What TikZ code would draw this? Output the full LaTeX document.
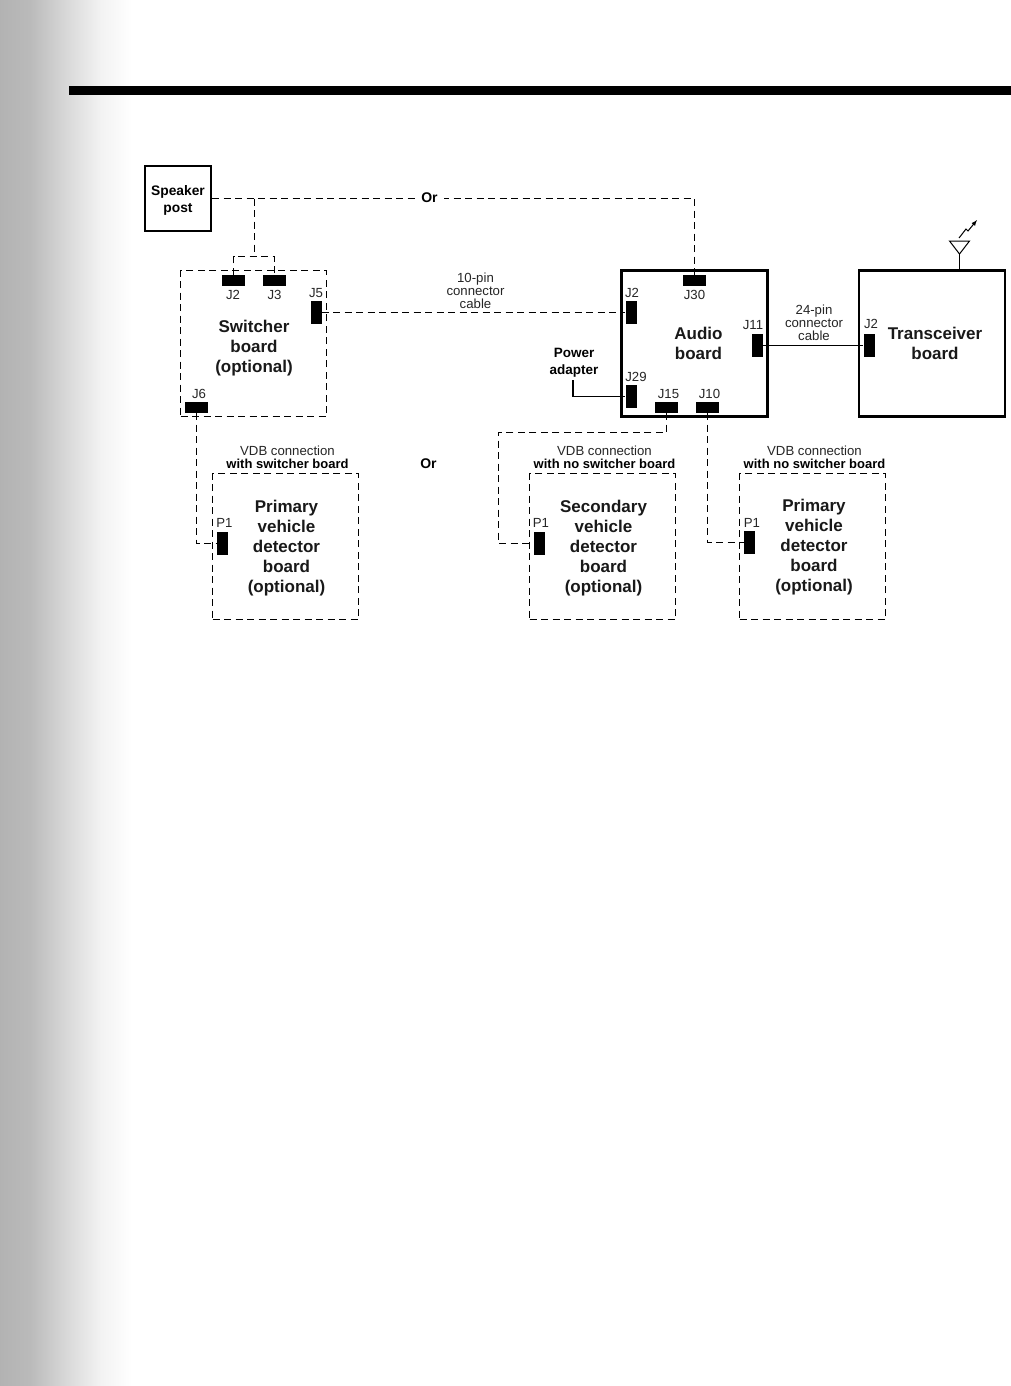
\documentclass[tikz,border=0pt]{standalone}
\usepackage{fontspec}
\setmainfont{Liberation Sans}
\usetikzlibrary{calc}
\pgfdeclarehorizontalshading{sidefade}{100bp}{rgb(0bp)=(.70,.70,.70); rgb(25bp)=(.70,.70,.70); rgb(36.4bp)=(.73,.73,.73); rgb(50.4bp)=(.85,.85,.85); rgb(62.9bp)=(.95,.95,.95); rgb(75bp)=(1,1,1); rgb(100bp)=(1,1,1)}
\tikzset{
  x=1pt,y=-1pt,
  solidboard/.style={draw=black,line width=2.4pt,fill=white,inner sep=0pt,minimum width=146pt,minimum height=146pt},
  dashboard/.style={draw=black,line width=1.2pt,dash pattern=on 7pt off 4.5pt,inner sep=0pt,minimum width=146pt,minimum height=146pt},
  conh/.style={fill=black,inner sep=0pt,minimum width=23pt,minimum height=11pt},
  conv/.style={fill=black,inner sep=0pt,minimum width=11pt,minimum height=23pt},
  small/.style={font=\fontsize{13.2}{13}\selectfont,text=black!85,inner sep=0pt,align=center},
  smallb/.style={font=\fontsize{13}{13}\selectfont\bfseries,inner sep=0pt,align=center},
  big/.style={font=\fontsize{17}{20}\selectfont\bfseries,text=black!90,inner sep=0pt,align=center},
  wire/.style={line width=1.2pt,dash pattern=on 7pt off 4.5pt},
  solidwire/.style={line width=1.1pt},
}
\begin{document}
\begin{tikzpicture}
\useasboundingbox (0,0) rectangle (1011,1386);
\fill[white] (0,0) rectangle (1011,1386);
\shade[shading=sidefade] (0,0) rectangle (132,1386);
\fill[black] (69,86) rectangle (1011,95);
% boards
\node[solidboard,minimum width=66pt,minimum height=65pt,line width=2.4pt] (spk) at (178,198.5) {};
\node[smallb,font=\fontsize{13.8}{17}\selectfont\bfseries] (spktxt) at (178,200) {Speaker\\post};
\node[dashboard] (sw) at (253.5,343.5) {};
\node[solidboard] (aud) at (694.5,343.5) {};
\node[solidboard] (tr) at (932,343.5) {};
\node[dashboard] (v1) at (285.5,546.5) {};
\node[dashboard] (v2) at (602.5,546.5) {};
\node[dashboard] (v3) at (812.5,546.5) {};
% connectors blocks
\node[conh] (swj2) at (233.5,280.5) {};
\node[conh] (swj3) at (274.5,280.5) {};
\node[conv] (swj5) at (316,312.5) {};
\node[conh] (swj6) at (196.5,407.5) {};
\node[conh] (aj30) at (694.5,280.5) {};
\node[conv] (aj2) at (631,312.5) {};
\node[conv] (aj29) at (631,396.5) {};
\node[conh] (aj15) at (666.5,407.5) {};
\node[conh] (aj10) at (707.5,407.5) {};
\node[conv] (aj11) at (757.5,345.5) {};
\node[conv] (tj2) at (869,345.5) {};
\node[conv] (v1p) at (222,543.5) {};
\node[conv] (v2p) at (539,543.5) {};
\node[conv] (v3p) at (749.5,542.5) {};
% wires
\coordinate (tap) at (254.5,198.5);
\coordinate (fork) at (254.5,256.5);
\coordinate (pa) at (573,396.5);
\coordinate (c15) at (498.5,432.5);
\coordinate (ant) at (959.5,254);
\draw[wire] (spk.east) -| (aj30.north);
\draw[wire] (tap) -- (fork);
\draw[wire] (swj2.north) |- (fork) -| (swj3.north);
\draw[wire] (swj5.east) -- (aj2.west);
\draw[solidwire,line width=1.5pt] (aj11.east) -- (tj2.west);
\draw[solidwire,line width=1.4pt] (573,380) -- (pa) -- (aj29.west);
\draw[wire] (swj6.south) |- (v1p.west);
\draw[wire] (aj15.south) |- (c15) |- (v2p.west);
\draw[wire] (aj10.south) |- (v3p.west);
% antenna
\draw[line width=1pt] (ant) -- (tr.north -| ant);
\draw[line width=1pt] (949.5,241) -- (969.5,241) -- (ant) -- cycle;
\draw[line width=1pt,-{latex}] (959,238) -- (966,229) -- (968,231) -- (977,220);
% labels
\node[smallb,fill=white,inner xsep=6pt,inner ysep=2pt,font=\fontsize{14}{14}\selectfont\bfseries] (or1) at (429.5,198) {Or};
\node[smallb,font=\fontsize{14}{14}\selectfont\bfseries] (or2) at (428.5,464) {Or};
\node[small] (l1) at (233,295) {J2};
\node[small] (l2) at (274.5,295) {J3};
\node[small] (l3) at (316,293) {J5};
\node[small] (l4) at (199,394) {J6};
\node[big] (t1) at (254,348.5) {Switcher\\board\\(optional)};
\node[small] (l5) at (475.5,291) {10-pin\\connector\\cable};
\node[small] (l6) at (694.5,295) {J30};
\node[small] (l7) at (632,293) {J2};
\node[big] (t2) at (698.5,343.5) {Audio\\board};
\node[small] (l8) at (753,325) {J11};
\node[small] (l9) at (636,377) {J29};
\node[small] (l10) at (668.5,394) {J15};
\node[small] (l11) at (709.5,394) {J10};
\node[smallb,font=\fontsize{13.5}{17}\selectfont\bfseries] (pwr) at (574,362.5) {Power\\adapter};
\node[small] (l12) at (814,323) {24-pin\\connector\\cable};
\node[small] (l13) at (871,324) {J2};
\node[big] (t3) at (935,343.5) {Transceiver\\board};
\node[small] (h1) at (287.5,451) {VDB connection};
\node[smallb] (h1b) at (287.5,464) {with switcher board};
\node[small] (h2) at (604.5,451) {VDB connection};
\node[smallb] (h2b) at (604.5,464) {with no switcher board};
\node[small] (h3) at (814.5,451) {VDB connection};
\node[smallb] (h3b) at (814.5,464) {with no switcher board};
\node[small] (p1) at (224.5,523) {P1};
\node[small] (p2) at (541,523) {P1};
\node[small] (p3) at (752,522.5) {P1};
\node[big] (t4) at (286.5,548.5) {Primary\\vehicle\\detector\\board\\(optional)};
\node[big] (t5) at (603.5,548.5) {Secondary\\vehicle\\detector\\board\\(optional)};
\node[big] (t6) at (814,547.5) {Primary\\vehicle\\detector\\board\\(optional)};
\end{tikzpicture}
\end{document}
